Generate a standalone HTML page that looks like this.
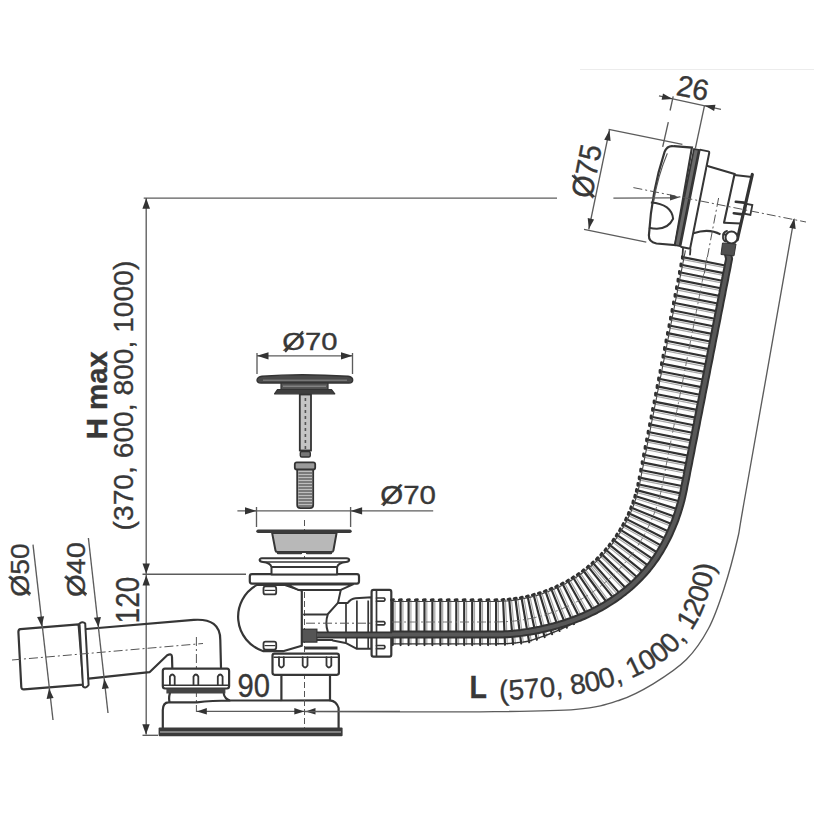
<!DOCTYPE html>
<html><head><meta charset="utf-8"><style>
html,body{margin:0;padding:0;background:#fff;}
svg{display:block;font-family:"Liberation Sans",sans-serif;}
</style></head><body>
<svg width="814" height="814" viewBox="0 0 814 814">
<rect width="814" height="814" fill="#fff"/>
<line x1="580.0" y1="69.5" x2="814.0" y2="69.5" stroke="#ececec" stroke-width="1" />
<line x1="143.7" y1="198.1" x2="557.0" y2="198.1" stroke="#5c5c5c" stroke-width="1.35" />
<line x1="146.2" y1="198.0" x2="146.2" y2="734.6" stroke="#5c5c5c" stroke-width="1.35" />
<polygon points="146.2,198.3 150.0,208.8 142.4,208.8" fill="#333"/>
<polygon points="146.2,573.7 142.5,563.4 149.9,563.4" fill="#333"/>
<polygon points="146.2,575.2 149.9,585.5 142.5,585.5" fill="#333"/>
<polygon points="146.0,734.4 142.3,724.2 149.7,724.2" fill="#333"/>
<line x1="142.5" y1="574.2" x2="246.0" y2="574.2" stroke="#5c5c5c" stroke-width="1.35" />
<line x1="142.5" y1="735.3" x2="158.0" y2="735.3" stroke="#5c5c5c" stroke-width="1.35" />
<text transform="translate(107.43,439.25) rotate(-90) scale(1.0074,1)" font-size="29.13" font-weight="bold" text-anchor="start" fill="#383838" stroke="#383838" stroke-width="0.35" >H max</text>
<text transform="translate(133.11,530.43) rotate(-90) scale(1.0267,1)" font-size="27.49" font-weight="normal" text-anchor="start" fill="#383838" stroke="#383838" stroke-width="0.35" >(370, 600, 800, 1000)</text>
<text transform="translate(138.70,623.41) rotate(-90) scale(0.8567,1)" font-size="32.66" font-weight="normal" text-anchor="start" fill="#383838" stroke="#383838" stroke-width="0.35" >120</text>
<text transform="translate(28.84,596.65) rotate(-90) scale(1.0932,1)" font-size="25.85" font-weight="normal" text-anchor="start" fill="#383838" stroke="#383838" stroke-width="0.35" >Ø50</text>
<line transform="translate(28.84,596.65) rotate(-90) scale(1.0932,1)" x1="2.59" y1="1.81" x2="18.10" y2="-20.16" stroke="#383838" stroke-width="1.60" stroke-linecap="butt"/>
<text transform="translate(84.84,597.08) rotate(-90) scale(1.1233,1)" font-size="25.85" font-weight="normal" text-anchor="start" fill="#383838" stroke="#383838" stroke-width="0.35" >Ø40</text>
<line transform="translate(84.84,597.08) rotate(-90) scale(1.1233,1)" x1="2.59" y1="1.81" x2="18.10" y2="-20.16" stroke="#383838" stroke-width="1.60" stroke-linecap="butt"/>
<path d="M20.5,629.1 L78.6,624.4 L83.5,684.6 L24,689.4 Q21.5,689.6 21.3,687 L18.4,632 Q18.3,629.3 20.5,629.1 Z" fill="#fff" stroke="#363636" stroke-width="2.2" stroke-linejoin="round" stroke-linecap="round" />
<path d="M79.5,623.5 Q83,621 85.2,623.5 L88.6,685 Q86,689 83,686.5 Z" fill="#fff" stroke="#363636" stroke-width="2.0" stroke-linejoin="round" stroke-linecap="round" />
<path d="M86.3,629 L193.7,619.9 Q220.3,618 220.3,640 L221,667.5" fill="none" stroke="#363636" stroke-width="2.2" stroke-linejoin="round" stroke-linecap="round" />
<path d="M88.5,678.6 L149.5,672.2 L167.2,655.3 Q172,653 172,657 L172.3,667.8" fill="none" stroke="#363636" stroke-width="2.2" stroke-linejoin="round" stroke-linecap="round" />
<line x1="12.0" y1="660.0" x2="203.0" y2="643.5" stroke="#555" stroke-width="1.0" stroke-dasharray="9 3 2 3"/>
<line x1="196.4" y1="637.0" x2="196.4" y2="712.0" stroke="#555" stroke-width="1.0" stroke-dasharray="9 3 2 3"/>
<line x1="33.0" y1="544.6" x2="53.0" y2="720.0" stroke="#5c5c5c" stroke-width="1.35" />
<polygon points="41.7,626.5 37.1,617.0 44.1,616.2" fill="#333"/>
<polygon points="49.0,688.6 53.6,698.1 46.6,698.9" fill="#333"/>
<line x1="88.4" y1="538.0" x2="108.0" y2="713.0" stroke="#5c5c5c" stroke-width="1.35" />
<polygon points="98.5,627.3 93.9,617.8 100.9,617.0" fill="#333"/>
<polygon points="104.3,678.8 108.9,688.3 101.9,689.1" fill="#333"/>
<path d="M165,668.6 L227,668.6 Q229.1,668.6 229.1,671 L229.1,686 Q229.1,688.5 227,688.5 L165,688.5 Q162.8,688.5 162.8,686 L162.8,671 Q162.8,668.6 165,668.6 Z" fill="#fff" stroke="#363636" stroke-width="2.2" stroke-linejoin="round" stroke-linecap="round" />
<path d="M169.9,685 L169.9,676.5 Q172.3,672.5 174.7,676.5 L174.7,685" fill="none" stroke="#363636" stroke-width="1.8" stroke-linejoin="round" stroke-linecap="round" />
<path d="M193.5,685 L193.5,676.5 Q195.9,672.5 198.3,676.5 L198.3,685" fill="none" stroke="#363636" stroke-width="1.8" stroke-linejoin="round" stroke-linecap="round" />
<path d="M217.8,685 L217.8,676.5 Q220.2,672.5 222.6,676.5 L222.6,685" fill="none" stroke="#363636" stroke-width="1.8" stroke-linejoin="round" stroke-linecap="round" />
<line x1="163.0" y1="685.2" x2="229.0" y2="685.2" stroke="#363636" stroke-width="1.6" />
<rect x="166.4" y="688.5" width="59" height="5" fill="#444"/>
<path d="M162.8,728 L162.8,710 Q163,702.3 168.5,702.3 L197,702.3 Q212,700.5 230,700.5 L280.5,700.5 M330,674.8 L330,700.3 Q336.5,701 338.6,708 L338.6,728 M169.8,693.6 Q168.6,697.5 169.5,702 M223.8,693.8 Q224.5,698.5 230,700.5" fill="none" stroke="#363636" stroke-width="2.2" stroke-linejoin="round" stroke-linecap="round" />
<path d="M281.4,675 L281.4,700.5 L330,700.3" fill="none" stroke="#363636" stroke-width="2.2" stroke-linejoin="round" stroke-linecap="round" />
<rect x="158.6" y="727.6" width="184" height="8.6" rx="1" fill="#3a3a3a"/>
<line x1="160.0" y1="732.0" x2="341.0" y2="732.0" stroke="#9a9a9a" stroke-width="1.3" />
<line x1="196.8" y1="711.4" x2="400.0" y2="711.4" stroke="#5c5c5c" stroke-width="1.35" />
<polygon points="196.8,711.4 206.8,708.1 206.8,714.6" fill="#333"/>
<polygon points="304.3,711.4 294.3,714.6 294.3,708.1" fill="#333"/>
<polygon points="305.5,711.4 315.5,708.1 315.5,714.6" fill="#333"/>
<line x1="304.5" y1="520.0" x2="304.5" y2="728.0" stroke="#555" stroke-width="1.0" stroke-dasharray="6 3"/>
<text transform="translate(237.51,696.59) rotate(0) scale(0.8969,1)" font-size="32.56" font-weight="normal" text-anchor="start" fill="#383838" stroke="#383838" stroke-width="0.35" >90</text>
<path d="M274.5,653.6 L337,653.6 Q338.9,653.6 338.9,655.8 L338.9,672.6 Q338.9,674.8 337,674.8 L274.5,674.8 Q272.5,674.8 272.5,672.6 L272.5,655.8 Q272.5,653.6 274.5,653.6 Z" fill="#fff" stroke="#363636" stroke-width="2.2" stroke-linejoin="round" stroke-linecap="round" />
<path d="M279.0,657.2 L279.0,665.5 Q281.4,669.5 283.8,665.5 L283.8,657.2" fill="none" stroke="#363636" stroke-width="1.8" stroke-linejoin="round" stroke-linecap="round" />
<path d="M302.7,657.2 L302.7,665.5 Q305.1,669.5 307.5,665.5 L307.5,657.2" fill="none" stroke="#363636" stroke-width="1.8" stroke-linejoin="round" stroke-linecap="round" />
<path d="M326.5,657.2 L326.5,665.5 Q328.9,669.5 331.3,665.5 L331.3,657.2" fill="none" stroke="#363636" stroke-width="1.8" stroke-linejoin="round" stroke-linecap="round" />
<line x1="273.5" y1="657.2" x2="338.0" y2="657.2" stroke="#363636" stroke-width="1.6" />
<path d="M257,584.9 A36.2,36.2 0 0 0 263.4,651.2 L283,651.2 L301.8,645.8 L301.8,590.8 L285,584.9 Z" fill="#fff" stroke="#363636" stroke-width="2.2" stroke-linejoin="round" stroke-linecap="round" />
<rect x="263.5" y="586.4" width="12.7" height="8" rx="2" fill="#fff" stroke="#363636" stroke-width="1.8"/>
<line x1="264.5" y1="590.4" x2="275.2" y2="590.4" stroke="#363636" stroke-width="1.2" />
<rect x="263.5" y="641.6" width="12.7" height="8" rx="2" fill="#fff" stroke="#363636" stroke-width="1.8"/>
<line x1="264.5" y1="645.6" x2="275.2" y2="645.6" stroke="#363636" stroke-width="1.2" />
<path d="M286.6,584.4 L353,584.4 L340.8,589.9 L298.3,589.9 Z" fill="#fff" stroke="#363636" stroke-width="2.0" stroke-linejoin="round" stroke-linecap="round" />
<path d="M340.8,589.9 L338,602.6" fill="none" stroke="#363636" stroke-width="2.0" stroke-linejoin="round" stroke-linecap="round" />
<path d="M304,614.4 L327.9,614.4 M304,640 L332.8,640" fill="none" stroke="#363636" stroke-width="2.0" stroke-linejoin="round" stroke-linecap="round" />
<path d="M337.7,603.1 L347.5,603.1 Q351,598.5 355.4,598.2 L371.6,597.2 L371.6,648.8 L356.9,648.8 L345.6,642.9 L332.8,640.5 M337.7,603.1 L327.9,614 Q324.8,623 327.9,632" fill="#fff" stroke="#363636" stroke-width="2.0" stroke-linejoin="round" stroke-linecap="round" />
<line x1="346.0" y1="603.5" x2="346.0" y2="642.5" stroke="#363636" stroke-width="1.7" />
<line x1="356.9" y1="600.5" x2="356.9" y2="648.0" stroke="#363636" stroke-width="1.7" />
<line x1="368.2" y1="600.5" x2="368.2" y2="648.0" stroke="#363636" stroke-width="1.7" />
<path d="M252,574.2 L357,574.2 Q359,574.2 359,576.5 L359,581.3 Q359,583.6 357,583.6 L252,583.6 Q249.8,583.6 249.8,581.3 L249.8,576.5 Q249.8,574.2 252,574.2 Z" fill="#fff" stroke="#363636" stroke-width="2.2" stroke-linejoin="round" stroke-linecap="round" />
<path d="M262,558.2 L346.5,558.2 Q349.5,558.5 349.2,560 Q348.8,561.8 346,562 Q338.3,562.8 337.1,567 L337.1,574.4 L271.5,574.4 L271.5,567 Q270.3,562.8 263,562 Q259.9,561.8 259.6,560 Q259.6,558.5 262,558.2 Z" fill="#fff" stroke="#363636" stroke-width="2.0" stroke-linejoin="round" stroke-linecap="round" />
<line x1="263.0" y1="562.0" x2="346.0" y2="562.0" stroke="#363636" stroke-width="1.3" />
<line x1="271.5" y1="567.0" x2="337.1" y2="567.0" stroke="#363636" stroke-width="2.0" />
<path d="M272.1,532.9 L336.6,532.9 L333.4,550.5 Q333,552 331,552 L277.5,552 Q275.8,552 275.5,550.5 Z" fill="#b8b8b8" stroke="#363636" stroke-width="2.0" stroke-linejoin="round" stroke-linecap="round" />
<path d="M278,553 L301,553 M307,553 L331,553" fill="none" stroke="#3a3a3a" stroke-width="2.4" stroke-linejoin="round" stroke-linecap="round" />
<path d="M258,531.2 L350,531.2" fill="none" stroke="#3a3a3a" stroke-width="3.4" stroke-linejoin="round" stroke-linecap="round" />
<rect x="302.2" y="629.2" width="14.7" height="12.9" fill="#555" stroke="#333" stroke-width="1.2"/>
<line x1="304.8" y1="648.1" x2="337.5" y2="648.1" stroke="#363636" stroke-width="3" />
<path d="M373.5,589.8 L389.5,589.8 Q391.3,589.8 391.3,592 L391.3,654.5 Q391.3,656.7 389.5,656.7 L373.5,656.7 Q371.6,656.7 371.6,654.5 L371.6,592 Q371.6,589.8 373.5,589.8 Z" fill="#fff" stroke="#363636" stroke-width="2.2" stroke-linejoin="round" stroke-linecap="round" />
<line x1="376.5" y1="590.0" x2="376.5" y2="656.5" stroke="#363636" stroke-width="1.7" />
<path d="M376.5,598.0 L384,598.0 Q386,599.6 384,601.2 L376.5,601.2" fill="none" stroke="#363636" stroke-width="1.7" stroke-linejoin="round" stroke-linecap="round" />
<path d="M376.5,621.6 L384,621.6 Q386,623.2 384,624.8 L376.5,624.8" fill="none" stroke="#363636" stroke-width="1.7" stroke-linejoin="round" stroke-linecap="round" />
<path d="M376.5,645.5 L384,645.5 Q386,647.1 384,648.7 L376.5,648.7" fill="none" stroke="#363636" stroke-width="1.7" stroke-linejoin="round" stroke-linecap="round" />
<line x1="257.0" y1="374.0" x2="257.0" y2="353.0" stroke="#5c5c5c" stroke-width="1.35" />
<line x1="352.5" y1="374.0" x2="352.5" y2="353.0" stroke="#5c5c5c" stroke-width="1.35" />
<line x1="257.0" y1="355.8" x2="352.5" y2="355.8" stroke="#5c5c5c" stroke-width="1.35" />
<polygon points="257.0,355.8 268.5,352.2 268.5,359.4" fill="#333"/>
<polygon points="352.5,355.8 341.0,359.4 341.0,352.2" fill="#333"/>
<text transform="translate(282.32,350.40) rotate(0) scale(1.1940,1)" font-size="24.51" font-weight="normal" text-anchor="start" fill="#383838" stroke="#383838" stroke-width="0.35" >Ø70</text>
<line transform="translate(282.32,350.40) rotate(0) scale(1.1940,1)" x1="2.45" y1="1.72" x2="17.16" y2="-19.12" stroke="#383838" stroke-width="1.52" stroke-linecap="butt"/>
<path d="M257,380 Q257.5,376.8 262,376.2 Q300,373.2 348,376.2 Q352.7,377 352.7,380 Q352.7,383 349,383 L261,383 Q257,383 257,380 Z" fill="#4a4a4a" stroke="#333" stroke-width="1.4" stroke-linejoin="round" stroke-linecap="round" />
<line x1="263.0" y1="380.2" x2="347.0" y2="380.2" stroke="#8a8a8a" stroke-width="1.0" />
<rect x="281" y="383" width="47" height="6.5" fill="#555" stroke="#333" stroke-width="1.2"/>
<line x1="283.0" y1="386.2" x2="326.0" y2="386.2" stroke="#999" stroke-width="1.0" />
<path d="M274.5,393.8 L277.5,389.5 L331.5,389.5 L334.8,393.8 Z" fill="#3e3e3e" stroke="#333" stroke-width="1.2" stroke-linejoin="round" stroke-linecap="round" />
<rect x="299.8" y="394.5" width="11.2" height="56" fill="#c4c4c4" stroke="#333" stroke-width="1.8"/>
<line x1="305.4" y1="398.0" x2="305.4" y2="449.0" stroke="#555" stroke-width="1.6" stroke-dasharray="3 3"/>
<rect x="300.3" y="451.5" width="10" height="5.5" rx="1.5" fill="#777" stroke="#333" stroke-width="1.4"/>
<path d="M297.2,469 L313.2,469 L313.2,505 Q313.2,508.2 310,508.2 L300.4,508.2 Q297.2,508.2 297.2,505 Z" fill="#bdbdbd" stroke="#333" stroke-width="1.8"/>
<rect x="294.8" y="462.3" width="20.4" height="7.2" rx="2" fill="#9a9a9a" stroke="#333" stroke-width="1.8"/>
<line x1="298.5" y1="473.0" x2="312.0" y2="473.0" stroke="#444" stroke-width="1.1" />
<line x1="298.5" y1="476.0" x2="312.0" y2="476.0" stroke="#444" stroke-width="1.1" />
<line x1="298.5" y1="479.0" x2="312.0" y2="479.0" stroke="#444" stroke-width="1.1" />
<line x1="298.5" y1="482.0" x2="312.0" y2="482.0" stroke="#444" stroke-width="1.1" />
<line x1="298.5" y1="485.0" x2="312.0" y2="485.0" stroke="#444" stroke-width="1.1" />
<line x1="298.5" y1="488.0" x2="312.0" y2="488.0" stroke="#444" stroke-width="1.1" />
<line x1="298.5" y1="491.0" x2="312.0" y2="491.0" stroke="#444" stroke-width="1.1" />
<line x1="298.5" y1="494.0" x2="312.0" y2="494.0" stroke="#444" stroke-width="1.1" />
<line x1="298.5" y1="497.0" x2="312.0" y2="497.0" stroke="#444" stroke-width="1.1" />
<line x1="298.5" y1="500.0" x2="312.0" y2="500.0" stroke="#444" stroke-width="1.1" />
<line x1="298.5" y1="503.0" x2="312.0" y2="503.0" stroke="#444" stroke-width="1.1" />
<line x1="298.5" y1="506.0" x2="312.0" y2="506.0" stroke="#444" stroke-width="1.1" />
<line x1="256.5" y1="507.0" x2="256.5" y2="527.0" stroke="#5c5c5c" stroke-width="1.35" />
<line x1="350.6" y1="507.0" x2="350.6" y2="527.0" stroke="#5c5c5c" stroke-width="1.35" />
<line x1="237.4" y1="510.9" x2="433.2" y2="510.9" stroke="#5c5c5c" stroke-width="1.35" />
<polygon points="256.5,510.9 245.0,514.5 245.0,507.3" fill="#333"/>
<polygon points="350.6,510.9 362.1,507.3 362.1,514.5" fill="#333"/>
<text transform="translate(380.27,504.08) rotate(0) scale(1.1754,1)" font-size="25.10" font-weight="normal" text-anchor="start" fill="#383838" stroke="#383838" stroke-width="0.35" >Ø70</text>
<line transform="translate(380.27,504.08) rotate(0) scale(1.1754,1)" x1="2.51" y1="1.76" x2="17.57" y2="-19.58" stroke="#383838" stroke-width="1.56" stroke-linecap="butt"/>
<path d="M395.0,600.0L395.0,645.1M402.9,600.0L402.9,645.1M410.9,600.0L410.9,645.1M418.9,600.0L418.9,645.1M426.8,600.0L426.8,645.1M434.8,600.0L434.8,645.1M442.7,600.0L442.7,645.1M450.7,600.0L450.7,645.1M458.6,600.0L458.6,645.1M466.6,600.0L466.6,645.1M474.5,600.0L474.5,645.1M482.5,600.0L482.5,645.1M490.4,600.0L490.4,645.1M498.4,600.0L498.4,645.1M505.4,599.6L507.3,644.7M511.5,599.1L515.4,644.1M517.7,598.2L523.4,643.2M523.8,597.2L531.4,641.8M529.8,595.8L539.2,639.2M535.8,594.2L546.8,636.5M541.7,592.4L554.3,633.5M547.6,590.3L561.7,630.3M553.3,588.0L568.9,626.8M558.9,585.4L576.0,623.2M564.4,582.6L582.9,619.2M569.8,579.6L589.6,615.0M575.1,576.3L596.1,610.6M580.2,572.8L602.7,606.2M585.1,569.1L609.5,602.1M589.9,565.3L616.1,597.7M591.1,564.2L619.1,596.1M595.6,560.1L625.4,591.2M600.0,555.7L631.5,586.0M604.2,551.2L637.3,580.5M608.2,546.6L642.9,574.7M612.0,541.7L648.2,568.5M615.6,536.7L653.1,562.1M619.0,531.6L657.6,555.5M622.1,526.3L661.8,548.6M625.0,520.9L665.7,541.5M627.7,515.4L669.3,534.3M630.2,509.8L672.6,526.9M632.4,504.0L675.5,519.4M634.3,498.2L678.2,511.8M636.1,492.4L680.5,504.0M637.5,486.4L682.4,496.2M638.9,479.9L684.0,488.8M640.3,472.3L685.5,481.2M641.8,464.7L687.0,473.5M643.3,457.1L688.5,465.9M644.8,449.5L690.0,458.3M646.3,441.9L691.5,450.7M647.8,434.3L692.9,443.1M649.3,426.7L694.4,435.5M650.8,419.1L695.9,427.9M652.3,411.5L697.4,420.3M653.8,403.8L698.9,412.7M655.3,396.2L700.4,405.1M656.8,388.6L701.9,397.5M658.3,381.0L703.4,389.9M659.7,373.4L704.9,382.3M661.2,365.8L706.4,374.7M662.7,358.2L707.9,367.1M664.2,350.6L709.4,359.5M665.7,343.0L710.9,351.9M667.2,335.4L712.3,344.3M668.7,327.8L713.8,336.7M670.2,320.2L715.3,329.1M671.7,312.6L716.8,321.4M673.2,305.0L718.3,313.8M674.7,297.4L719.8,306.2M676.2,289.8L721.3,298.6M677.6,282.2L722.8,291.0M679.1,274.6L724.3,283.4M680.6,267.0L725.8,275.8M682.1,259.4L727.3,268.2" stroke="#a8a8a8" stroke-width="1.2" fill="none"/>
<path d="M392.7,600.0L392.7,645.1M400.6,600.0L400.6,645.1M408.6,600.0L408.6,645.1M416.6,600.0L416.6,645.1M424.5,600.0L424.5,645.1M432.4,600.0L432.4,645.1M440.4,600.0L440.4,645.1M448.4,600.0L448.4,645.1M456.3,600.0L456.3,645.1M464.2,600.0L464.2,645.1M472.2,600.0L472.2,645.1M480.2,600.0L480.2,645.1M488.1,600.0L488.1,645.1M496.1,600.0L496.1,645.1M503.1,599.7L505.0,644.8M509.2,599.2L513.1,644.3M515.4,598.5L521.2,643.4M521.5,597.5L529.2,642.2M527.6,596.3L536.9,639.7M533.6,594.8L544.6,637.1M539.5,593.1L552.1,634.2M545.4,591.1L559.5,631.0M551.2,588.8L566.8,627.7M556.8,586.4L573.9,624.1M562.4,583.6L580.8,620.3M567.8,580.7L587.6,616.2M573.1,577.5L594.2,611.8M578.3,574.1L600.8,607.5M583.3,570.5L607.6,603.5M588.1,566.7L614.3,599.2M592.8,562.7L620.8,594.6M597.3,558.5L627.1,589.6M601.6,554.1L633.1,584.3M605.7,549.5L638.9,578.7M609.7,544.8L644.4,572.9M613.4,539.9L649.5,566.7M616.9,534.8L654.4,560.2M620.2,529.6L658.9,553.5M623.2,524.3L663.0,546.6M626.1,518.9L666.8,539.5M628.7,513.3L670.2,532.2M631.0,507.6L673.4,524.8M633.2,501.9L676.3,517.2M635.0,496.0L678.8,509.6M636.6,490.1L681.1,501.8M638.0,484.2L682.9,493.9M639.3,477.6L684.4,486.5M640.8,470.0L685.9,478.9M642.3,462.4L687.4,471.3M643.8,454.8L688.9,463.7M645.3,447.2L690.4,456.1M646.8,439.6L691.9,448.5M648.3,432.0L693.4,440.9M649.7,424.4L694.9,433.3M651.2,416.8L696.4,425.7M652.7,409.2L697.9,418.1M654.2,401.6L699.4,410.4M655.7,394.0L700.9,402.8M657.2,386.4L702.3,395.2M658.7,378.8L703.8,387.6M660.2,371.2L705.3,380.0M661.7,363.6L706.8,372.4M663.2,356.0L708.3,364.8M664.7,348.4L709.8,357.2M666.2,340.8L711.3,349.6M667.6,333.1L712.8,342.0M669.1,325.5L714.3,334.4M670.6,317.9L715.8,326.8M672.1,310.3L717.3,319.2M673.6,302.7L718.8,311.6M675.1,295.1L720.2,304.0M676.6,287.5L721.7,296.4M678.1,279.9L723.2,288.8M679.6,272.3L724.7,281.2M681.1,264.7L726.2,273.6M682.6,257.1L727.7,266.0" stroke="#303030" stroke-width="2.15" stroke-linecap="round" fill="none"/>
<path d="M391.5,600.0L393.5,599.7M399.4,600.0L401.4,599.7M407.4,600.0L409.4,599.7M415.4,600.0L417.4,599.7M423.3,600.0L425.3,599.7M431.2,600.0L433.2,599.7M439.2,600.0L441.2,599.7M447.2,600.0L449.2,599.7M455.1,600.0L457.1,599.7M463.1,600.0L465.1,599.7M471.0,600.0L473.0,599.7M479.0,600.0L481.0,599.7M486.9,600.0L488.9,599.7M494.9,600.0L496.9,599.7M501.9,599.8L503.8,599.4M508.0,599.3L510.0,598.9M514.2,598.7L516.2,598.1M520.3,597.8L522.3,597.1M526.4,596.6L528.3,595.9M532.4,595.1L534.3,594.3M538.4,593.4L540.2,592.6M544.3,591.5L546.1,590.5M550.1,589.3L551.8,588.3M555.7,586.9L557.4,585.8M561.3,584.2L563.0,583.0M566.8,581.3L568.4,580.0M572.1,578.1L573.6,576.8M577.3,574.8L578.8,573.4M582.3,571.2L583.7,569.8M587.2,567.5L588.5,566.0M591.9,563.5L593.2,561.9M596.4,559.3L597.7,557.7M600.8,554.9L601.9,553.3M604.9,550.4L606.0,548.7M608.9,545.7L609.9,544.0M612.7,540.8L613.6,539.1M616.2,535.8L617.1,534.0M619.5,530.7L620.3,528.8M622.6,525.4L623.4,523.5M625.5,519.9L626.2,518.0M628.2,514.4L628.7,512.4M630.6,508.7L631.1,506.8M632.8,503.0L633.1,501.0M634.7,497.2L635.0,495.2M636.3,491.3L636.6,489.3M637.8,485.3L637.9,483.3M639.1,478.8L639.2,476.8M640.6,471.2L640.7,469.2M642.1,463.6L642.1,461.6M643.5,456.0L643.6,454.0M645.0,448.4L645.1,446.4M646.5,440.8L646.6,438.8M648.0,433.2L648.1,431.2M649.5,425.6L649.6,423.6M651.0,418.0L651.1,416.0M652.5,410.4L652.6,408.4M654.0,402.8L654.1,400.8M655.5,395.2L655.6,393.1M657.0,387.6L657.1,385.5M658.5,380.0L658.6,377.9M660.0,372.4L660.0,370.3M661.4,364.7L661.5,362.7M662.9,357.1L663.0,355.1M664.4,349.5L664.5,347.5M665.9,341.9L666.0,339.9M667.4,334.3L667.5,332.3M668.9,326.7L669.0,324.7M670.4,319.1L670.5,317.1M671.9,311.5L672.0,309.5M673.4,303.9L673.5,301.9M674.9,296.3L675.0,294.3M676.4,288.7L676.5,286.7M677.9,281.1L678.0,279.1M679.4,273.5L679.4,271.5M680.8,265.9L680.9,263.9M682.3,258.3L682.4,256.3" stroke="#303030" stroke-width="2.8" stroke-linecap="round" fill="none"/>
<polyline points="392.0,601.5 394.5,601.5 397.0,601.5 399.5,601.5 402.0,601.5 404.5,601.5 407.0,601.5 409.5,601.5 412.0,601.5 414.5,601.5 417.0,601.5 419.5,601.5 422.0,601.5 424.5,601.5 427.0,601.5 429.5,601.5 432.0,601.5 434.5,601.5 437.0,601.5 439.5,601.5 442.0,601.5 444.5,601.5 447.0,601.5 449.5,601.5 452.0,601.5 454.5,601.5 457.0,601.5 459.5,601.5 462.0,601.5 464.5,601.5 467.0,601.5 469.5,601.5 472.0,601.5 474.5,601.5 477.0,601.5 479.5,601.5 482.0,601.5 484.5,601.5 487.0,601.5 489.5,601.5 492.0,601.5 494.5,601.5 497.0,601.4 499.2,601.4 501.4,601.3 503.6,601.2 505.7,601.0 507.9,600.9 510.1,600.7 512.3,600.4 514.5,600.2 516.7,599.9 518.8,599.5 521.0,599.2 523.1,598.8 525.3,598.3 527.4,597.9 529.6,597.4 531.7,596.9 533.8,596.3 535.9,595.7 538.0,595.1 540.1,594.5 542.2,593.8 544.3,593.1 546.3,592.3 548.4,591.6 550.4,590.8 552.4,589.9 554.4,589.1 556.4,588.2 558.4,587.3 560.4,586.3 562.4,585.3 564.3,584.3 566.2,583.3 568.1,582.2 570.0,581.1 571.9,580.0 573.8,578.9 575.6,577.7 577.4,576.5 579.2,575.3 581.0,574.0 582.8,572.7 584.5,571.4 586.3,570.1 588.0,568.7 589.7,567.4 591.3,566.0 593.0,564.5 594.6,563.1 596.2,561.6 597.8,560.1 599.3,558.6 600.9,557.0 602.4,555.5 603.9,553.9 605.3,552.2 606.8,550.6 608.2,549.0 609.6,547.3 610.9,545.6 612.3,543.9 613.6,542.1 614.9,540.4 616.1,538.6 617.4,536.8 618.6,535.0 619.7,533.2 620.9,531.3 622.0,529.5 623.1,527.6 624.2,525.7 625.2,523.8 626.2,521.9 627.2,519.9 628.2,518.0 629.1,516.0 630.0,514.0 630.9,512.0 631.7,510.0 632.5,508.0 633.3,506.0 634.0,504.0 634.7,501.9 635.4,499.8 636.1,497.8 636.7,495.7 637.3,493.6 637.8,491.5 638.4,489.4 638.9,487.3 639.3,485.2 639.8,483.1 640.2,480.9 640.7,478.4 641.2,475.9 641.6,473.5 642.1,471.0 642.6,468.6 643.1,466.1 643.6,463.7 644.0,461.2 644.5,458.8 645.0,456.3 645.5,453.9 646.0,451.4 646.5,449.0 646.9,446.5 647.4,444.1 647.9,441.6 648.4,439.2 648.9,436.7 649.3,434.2 649.8,431.8 650.3,429.3 650.8,426.9 651.3,424.4 651.7,422.0 652.2,419.5 652.7,417.1 653.2,414.6 653.7,412.2 654.2,409.7 654.6,407.3 655.1,404.8 655.6,402.4 656.1,399.9 656.6,397.4 657.0,395.0 657.5,392.5 658.0,390.1 658.5,387.6 659.0,385.2 659.4,382.7 659.9,380.3 660.4,377.8 660.9,375.4 661.4,372.9 661.9,370.5 662.3,368.0 662.8,365.6 663.3,363.1 663.8,360.6 664.3,358.2 664.7,355.7 665.2,353.3 665.7,350.8 666.2,348.4 666.7,345.9 667.1,343.5 667.6,341.0 668.1,338.6 668.6,336.1 669.1,333.7 669.6,331.2 670.0,328.8 670.5,326.3 671.0,323.8 671.5,321.4 672.0,318.9 672.4,316.5 672.9,314.0 673.4,311.6 673.9,309.1 674.4,306.7 674.9,304.2 675.3,301.8 675.8,299.3 676.3,296.9 676.8,294.4 677.3,292.0 677.7,289.5 678.2,287.1 678.7,284.6 679.2,282.1 679.7,279.7 680.1,277.2 680.6,274.8 681.1,272.3 681.6,269.9 682.1,267.4 682.6,265.0 683.0,262.5 683.5,260.1 684.0,257.6 684.5,255.2 685.0,252.7 685.4,250.3" stroke="#444" stroke-width="1.1" fill="none"/>
<polyline points="392.0,643.9 394.5,643.9 397.0,643.9 399.5,643.9 402.0,643.9 404.5,643.9 407.0,643.9 409.5,643.9 412.0,643.9 414.5,643.9 417.0,643.9 419.5,643.9 422.0,643.9 424.5,643.9 427.0,643.9 429.5,643.9 432.0,643.9 434.5,643.9 437.0,643.9 439.5,643.9 442.0,643.9 444.5,643.9 447.0,643.9 449.5,643.9 452.0,643.9 454.5,643.9 457.0,643.9 459.5,643.9 462.0,643.9 464.5,643.9 467.0,643.9 469.5,643.9 472.0,643.9 474.5,643.9 477.0,643.9 479.5,643.9 482.0,643.9 484.5,643.9 487.0,643.9 489.5,643.9 492.0,643.9 494.5,643.9 497.0,643.8 499.9,643.8 502.7,643.7 505.5,643.6 508.3,643.5 511.1,643.3 514.0,643.0 516.8,642.8 519.6,642.4 522.4,642.1 525.2,641.7 528.0,641.3 530.7,640.5 533.4,639.6 536.1,638.7 538.8,637.8 541.4,636.9 544.1,636.0 546.7,635.0 549.3,634.0 551.9,632.9 554.5,631.9 557.1,630.8 559.6,629.7 562.2,628.5 564.7,627.4 567.2,626.2 569.7,624.9 572.1,623.7 574.6,622.4 577.0,621.0 579.4,619.7 581.8,618.3 584.2,616.9" stroke="#333" stroke-width="1.4" fill="none"/>
<polyline points="392.0,622.0 394.5,622.0 397.0,622.0 399.5,622.0 402.0,622.0 404.5,622.0 407.0,622.0 409.5,622.0 412.0,622.0 414.5,622.0 417.0,622.0 419.5,622.0 422.0,622.0 424.5,622.0 427.0,622.0 429.5,622.0 432.0,622.0 434.5,622.0 437.0,622.0 439.5,622.0 442.0,622.0 444.5,622.0 447.0,622.0 449.5,622.0 452.0,622.0 454.5,622.0 457.0,622.0 459.5,622.0 462.0,622.0 464.5,622.0 467.0,622.0 469.5,622.0 472.0,622.0 474.5,622.0 477.0,622.0 479.5,622.0 482.0,622.0 484.5,622.0 487.0,622.0 489.5,622.0 492.0,622.0 494.5,622.0 497.0,621.9 499.5,621.9 502.0,621.8 504.5,621.7 507.0,621.6 509.5,621.4 512.0,621.2 514.5,621.0 517.0,620.7 519.4,620.4 521.9,620.0 524.4,619.6 526.8,619.2 529.3,618.7 531.7,618.2 534.2,617.7 536.6,617.1 539.0,616.5 541.5,615.9 543.9,615.2 546.3,614.5 548.6,613.7 551.0,612.9 553.4,612.1 555.7,611.3 558.1,610.4 560.4,609.4 562.7,608.5 565.0,607.5 567.3,606.5 569.5,605.4 571.8,604.3 574.0,603.2 576.2,602.0 578.4,600.8 580.6,599.6 582.8,598.3 584.9,597.0 587.0,595.7 589.1,594.4 591.2,593.0 593.3,591.6 595.3,590.1 597.3,588.6 599.3,587.1 601.3,585.6 603.2,584.0 605.2,582.4 607.1,580.8 608.9,579.2 610.8,577.5 612.6,575.8 614.4,574.1 616.2,572.3 618.0,570.5 619.7,568.7 621.4,566.9 623.0,565.0 624.7,563.1 626.3,561.2 627.9,559.3 629.4,557.3 631.0,555.3 632.5,553.3 633.9,551.3 635.4,549.3 636.8,547.2 638.2,545.1 639.5,543.0 640.8,540.9 642.1,538.7 643.3,536.6 644.6,534.4 645.7,532.2 646.9,530.0 648.0,527.7 649.1,525.5 650.2,523.2 651.2,520.9 652.2,518.6 653.1,516.3 654.0,514.0 654.9,511.7 655.8,509.3 656.6,506.9 657.3,504.6 658.1,502.2 658.8,499.8 659.5,497.4 660.1,494.9 660.7,492.5 661.3,490.1 661.8,487.6 662.3,485.2 662.8,482.7 663.2,480.3 663.7,477.8 664.2,475.4 664.7,472.9 665.2,470.5 665.6,468.0 666.1,465.6 666.6,463.1 667.1,460.7 667.6,458.2 668.1,455.7 668.5,453.3 669.0,450.8 669.5,448.4 670.0,445.9 670.5,443.5 670.9,441.0 671.4,438.6 671.9,436.1 672.4,433.7 672.9,431.2 673.3,428.8 673.8,426.3 674.3,423.9 674.8,421.4 675.3,419.0 675.8,416.5 676.2,414.0 676.7,411.6 677.2,409.1 677.7,406.7 678.2,404.2 678.6,401.8 679.1,399.3 679.6,396.9 680.1,394.4 680.6,392.0 681.0,389.5 681.5,387.1 682.0,384.6 682.5,382.2 683.0,379.7 683.5,377.2 683.9,374.8 684.4,372.3 684.9,369.9 685.4,367.4 685.9,365.0 686.3,362.5 686.8,360.1 687.3,357.6 687.8,355.2 688.3,352.7 688.7,350.3 689.2,347.8 689.7,345.4 690.2,342.9 690.7,340.4 691.2,338.0 691.6,335.5 692.1,333.1 692.6,330.6 693.1,328.2 693.6,325.7 694.0,323.3 694.5,320.8 695.0,318.4 695.5,315.9 696.0,313.5 696.4,311.0 696.9,308.6 697.4,306.1 697.9,303.6 698.4,301.2 698.9,298.7 699.3,296.3 699.8,293.8 700.3,291.4 700.8,288.9 701.3,286.5 701.7,284.0 702.2,281.6 702.7,279.1 703.2,276.7 703.7,274.2 704.1,271.8 704.6,269.3 705.1,266.9 705.6,264.4 706.1,261.9 706.6,259.5 707.0,257.0 707.5,254.6" stroke="#666" stroke-width="0.9" fill="none" stroke-dasharray="9 3 2 3"/>
<polyline points="392.0,634.6 394.5,634.6 397.0,634.6 399.5,634.6 402.0,634.6 404.5,634.6 407.0,634.6 409.5,634.6 412.0,634.6 414.5,634.6 417.0,634.6 419.5,634.6 422.0,634.6 424.5,634.6 427.0,634.6 429.5,634.6 432.0,634.6 434.5,634.6 437.0,634.6 439.5,634.6 442.0,634.6 444.5,634.6 447.0,634.6 449.5,634.6 452.0,634.6 454.5,634.6 457.0,634.6 459.5,634.6 462.0,634.6 464.5,634.6 467.0,634.6 469.5,634.6 472.0,634.6 474.5,634.6 477.0,634.6 479.5,634.6 482.0,634.6 484.5,634.6 487.0,634.6 489.5,634.6 492.0,634.6 494.5,634.6 497.0,634.5 499.7,634.5 502.4,634.4 505.1,634.3 507.8,634.2 510.4,634.0 513.1,633.8 515.8,633.5 518.5,633.2 521.1,632.9 523.8,632.5 526.4,632.1 529.1,631.7 531.7,631.2 534.4,630.7 537.0,630.2 539.7,629.7 542.3,629.1 544.9,628.5 547.6,627.9 550.2,627.3 552.8,626.6 555.4,625.9 558.0,625.2 560.6,624.4 563.2,623.6 565.8,622.8 568.4,621.9 571.0,621.0 573.5,620.1 576.1,619.1 578.6,618.1 581.2,617.0 583.7,616.0 586.2,614.9 588.7,613.7 591.2,612.5 593.7,611.3 596.1,610.1 598.5,608.8 601.0,607.4 603.4,606.1 605.8,604.6 608.1,603.2 610.5,601.7 612.8,600.2 615.1,598.6 617.4,597.0 619.7,595.4 621.9,593.7 624.1,592.0 626.3,590.2 628.4,588.4 630.6,586.6 632.7,584.7 634.7,582.8 636.7,580.9 638.7,578.9 640.7,576.9 642.6,574.8 644.5,572.7 646.4,570.6 648.2,568.4 649.9,566.2 651.7,564.0 653.3,561.7 655.0,559.4 656.6,557.1 658.1,554.7 659.6,552.3 661.1,549.9 662.5,547.4 663.9,545.0 665.2,542.5 666.5,540.0 667.8,537.4 669.0,534.9 670.2,532.3 671.3,529.7 672.4,527.1 673.5,524.5 674.6,521.9 675.6,519.3 676.5,516.6 677.4,513.9 678.3,511.2 679.1,508.5 679.9,505.8 680.7,503.1 681.4,500.4 682.1,497.6 682.7,494.9 683.3,492.1 683.9,489.4 684.3,487.0 684.8,484.5 685.3,482.1 685.8,479.6 686.3,477.2 686.8,474.7 687.2,472.3 687.7,469.8 688.2,467.3 688.7,464.9 689.2,462.4 689.6,460.0 690.1,457.5 690.6,455.1 691.1,452.6 691.6,450.2 692.0,447.7 692.5,445.3 693.0,442.8 693.5,440.4 694.0,437.9 694.5,435.5 694.9,433.0 695.4,430.5 695.9,428.1 696.4,425.6 696.9,423.2 697.3,420.7 697.8,418.3 698.3,415.8 698.8,413.4 699.3,410.9 699.7,408.5 700.2,406.0 700.7,403.6 701.2,401.1 701.7,398.7 702.2,396.2 702.6,393.7 703.1,391.3 703.6,388.8 704.1,386.4 704.6,383.9 705.0,381.5 705.5,379.0 706.0,376.6 706.5,374.1 707.0,371.7 707.4,369.2 707.9,366.8 708.4,364.3 708.9,361.9 709.4,359.4 709.9,356.9 710.3,354.5 710.8,352.0 711.3,349.6 711.8,347.1 712.3,344.7 712.7,342.2 713.2,339.8 713.7,337.3 714.2,334.9 714.7,332.4 715.1,330.0 715.6,327.5 716.1,325.1 716.6,322.6 717.1,320.2 717.6,317.7 718.0,315.2 718.5,312.8 719.0,310.3 719.5,307.9 720.0,305.4 720.4,303.0 720.9,300.5 721.4,298.1 721.9,295.6 722.4,293.2 722.8,290.7 723.3,288.3 723.8,285.8 724.3,283.4 724.8,280.9 725.3,278.4 725.7,276.0 726.2,273.5 726.7,271.1 727.2,268.6 727.7,266.2 728.1,263.7 728.6,261.3 729.1,258.8 727,250" stroke="#333" stroke-width="8" fill="none" stroke-linejoin="round"/>
<polyline points="392.0,634.6 394.5,634.6 397.0,634.6 399.5,634.6 402.0,634.6 404.5,634.6 407.0,634.6 409.5,634.6 412.0,634.6 414.5,634.6 417.0,634.6 419.5,634.6 422.0,634.6 424.5,634.6 427.0,634.6 429.5,634.6 432.0,634.6 434.5,634.6 437.0,634.6 439.5,634.6 442.0,634.6 444.5,634.6 447.0,634.6 449.5,634.6 452.0,634.6 454.5,634.6 457.0,634.6 459.5,634.6 462.0,634.6 464.5,634.6 467.0,634.6 469.5,634.6 472.0,634.6 474.5,634.6 477.0,634.6 479.5,634.6 482.0,634.6 484.5,634.6 487.0,634.6 489.5,634.6 492.0,634.6 494.5,634.6 497.0,634.5 499.7,634.5 502.4,634.4 505.1,634.3 507.8,634.2 510.4,634.0 513.1,633.8 515.8,633.5 518.5,633.2 521.1,632.9 523.8,632.5 526.4,632.1 529.1,631.7 531.7,631.2 534.4,630.7 537.0,630.2 539.7,629.7 542.3,629.1 544.9,628.5 547.6,627.9 550.2,627.3 552.8,626.6 555.4,625.9 558.0,625.2 560.6,624.4 563.2,623.6 565.8,622.8 568.4,621.9 571.0,621.0 573.5,620.1 576.1,619.1 578.6,618.1 581.2,617.0 583.7,616.0 586.2,614.9 588.7,613.7 591.2,612.5 593.7,611.3 596.1,610.1 598.5,608.8 601.0,607.4 603.4,606.1 605.8,604.6 608.1,603.2 610.5,601.7 612.8,600.2 615.1,598.6 617.4,597.0 619.7,595.4 621.9,593.7 624.1,592.0 626.3,590.2 628.4,588.4 630.6,586.6 632.7,584.7 634.7,582.8 636.7,580.9 638.7,578.9 640.7,576.9 642.6,574.8 644.5,572.7 646.4,570.6 648.2,568.4 649.9,566.2 651.7,564.0 653.3,561.7 655.0,559.4 656.6,557.1 658.1,554.7 659.6,552.3 661.1,549.9 662.5,547.4 663.9,545.0 665.2,542.5 666.5,540.0 667.8,537.4 669.0,534.9 670.2,532.3 671.3,529.7 672.4,527.1 673.5,524.5 674.6,521.9 675.6,519.3 676.5,516.6 677.4,513.9 678.3,511.2 679.1,508.5 679.9,505.8 680.7,503.1 681.4,500.4 682.1,497.6 682.7,494.9 683.3,492.1 683.9,489.4 684.3,487.0 684.8,484.5 685.3,482.1 685.8,479.6 686.3,477.2 686.8,474.7 687.2,472.3 687.7,469.8 688.2,467.3 688.7,464.9 689.2,462.4 689.6,460.0 690.1,457.5 690.6,455.1 691.1,452.6 691.6,450.2 692.0,447.7 692.5,445.3 693.0,442.8 693.5,440.4 694.0,437.9 694.5,435.5 694.9,433.0 695.4,430.5 695.9,428.1 696.4,425.6 696.9,423.2 697.3,420.7 697.8,418.3 698.3,415.8 698.8,413.4 699.3,410.9 699.7,408.5 700.2,406.0 700.7,403.6 701.2,401.1 701.7,398.7 702.2,396.2 702.6,393.7 703.1,391.3 703.6,388.8 704.1,386.4 704.6,383.9 705.0,381.5 705.5,379.0 706.0,376.6 706.5,374.1 707.0,371.7 707.4,369.2 707.9,366.8 708.4,364.3 708.9,361.9 709.4,359.4 709.9,356.9 710.3,354.5 710.8,352.0 711.3,349.6 711.8,347.1 712.3,344.7 712.7,342.2 713.2,339.8 713.7,337.3 714.2,334.9 714.7,332.4 715.1,330.0 715.6,327.5 716.1,325.1 716.6,322.6 717.1,320.2 717.6,317.7 718.0,315.2 718.5,312.8 719.0,310.3 719.5,307.9 720.0,305.4 720.4,303.0 720.9,300.5 721.4,298.1 721.9,295.6 722.4,293.2 722.8,290.7 723.3,288.3 723.8,285.8 724.3,283.4 724.8,280.9 725.3,278.4 725.7,276.0 726.2,273.5 726.7,271.1 727.2,268.6 727.7,266.2 728.1,263.7 728.6,261.3 729.1,258.8 727,250" stroke="#585858" stroke-width="4" fill="none" stroke-linejoin="round"/>
<line x1="316.9" y1="635.0" x2="392.0" y2="635.0" stroke="#333" stroke-width="7" />
<line x1="316.9" y1="635.0" x2="392.0" y2="635.0" stroke="#585858" stroke-width="3.5" />
<line x1="306.0" y1="623.2" x2="372.0" y2="623.2" stroke="#555" stroke-width="1.0" stroke-dasharray="9 3 2 3"/>
<g transform="translate(684.0,197.5) rotate(11.3)"><path d="M-20,-48.3 L-2,-50.5 L0.5,48.5 L-18,50.5 Q-26,50.5 -27,44 Q-33,0 -28,-41 Q-26.5,-48.3 -20,-48.3 Z" fill="#fff" stroke="#363636" stroke-width="2.2"/><path d="M-25,-40 Q-30,-15 -29,10" fill="none" stroke="#555" stroke-width="1.2"/><path d="M-31.5,11.5 Q-11,9 -6.5,23 Q-10,37 -28.5,36.5" fill="none" stroke="#363636" stroke-width="2"/><rect x="0.3" y="-49.5" width="4.8" height="98" fill="#6a6a6a" stroke="#333" stroke-width="1.6"/><rect x="6" y="-50" width="10" height="99" rx="1.2" fill="#fff" stroke="#363636" stroke-width="2"/><path d="M16,-35.5 L45,-33 L44.2,17 M43,29 Q30,25 16.3,33.3" fill="#fff" stroke="#363636" stroke-width="2.1"/><path d="M45,-32 L62.5,-33.5 M45,28 L61,30" fill="none" stroke="#363636" stroke-width="2"/><path d="M62.5,-36 L60.5,31" fill="none" stroke="#333" stroke-width="3.2" stroke-linecap="round"/><rect x="62.5" y="-6" width="6" height="10" fill="#fff" stroke="#363636" stroke-width="1.8"/></g>
<path d="M735.8,201.8 L744,202.6 M733.8,213.2 L742.8,214.4" fill="none" stroke="#333" stroke-width="2.6" stroke-linejoin="round" stroke-linecap="round" />
<path d="M724,222.7 L740.5,223.4" fill="none" stroke="#363636" stroke-width="2.0" stroke-linejoin="round" stroke-linecap="round" />
<path d="M727,231 Q722.5,232 723,238 Q723.5,241 726,241.5" fill="none" stroke="#363636" stroke-width="1.8" stroke-linejoin="round" stroke-linecap="round" />
<circle cx="731.5" cy="237.5" r="6" fill="#fff" stroke="#363636" stroke-width="2"/>
<path d="M722.5,243 L736,244 L734,255.8 L721,254.5 Z" fill="#505050" stroke="#333" stroke-width="1"/>
<path d="M682.6,254.6 L683,248.5 M690.5,249 L690,254.6" fill="none" stroke="#363636" stroke-width="1.8" stroke-linejoin="round" stroke-linecap="round" />
<line x1="633.4" y1="187.6" x2="806.0" y2="222.0" stroke="#555" stroke-width="1.0" stroke-dasharray="9 3 2 3"/>
<line x1="718.6" y1="198.0" x2="704.0" y2="275.0" stroke="#555" stroke-width="1.0" stroke-dasharray="9 3 2 3"/>
<line x1="613.4" y1="198.1" x2="670.0" y2="197.9" stroke="#5c5c5c" stroke-width="1.35" />
<polygon points="680.0,197.3 670.0,200.4 670.0,194.4" fill="#444"/>
<line x1="608.7" y1="129.3" x2="682.4" y2="144.3" stroke="#5c5c5c" stroke-width="1.35" />
<line x1="584.0" y1="229.4" x2="646.3" y2="242.2" stroke="#5c5c5c" stroke-width="1.35" />
<line x1="609.5" y1="129.6" x2="588.8" y2="229.4" stroke="#5c5c5c" stroke-width="1.35" />
<polygon points="609.5,130.2 610.6,141.1 604.2,139.8" fill="#333"/>
<polygon points="588.8,229.0 587.7,218.1 594.1,219.4" fill="#333"/>
<text transform="translate(591.81,199.23) rotate(-79) scale(0.9228,1)" font-size="30.56" font-weight="normal" text-anchor="start" fill="#383838" stroke="#383838" stroke-width="0.35" >Ø75</text>
<line transform="translate(591.81,199.23) rotate(-79) scale(0.9228,1)" x1="3.06" y1="2.14" x2="21.39" y2="-23.84" stroke="#383838" stroke-width="1.89" stroke-linecap="butt"/>
<line x1="659.0" y1="95.8" x2="721.0" y2="109.3" stroke="#5c5c5c" stroke-width="1.35" />
<polygon points="672.6,98.9 661.6,99.8 663.0,93.5" fill="#333"/>
<polygon points="704.5,105.6 715.5,104.7 714.1,111.0" fill="#333"/>
<line x1="673.2" y1="96.4" x2="670.1" y2="110.5" stroke="#5c5c5c" stroke-width="1.35" />
<line x1="668.3" y1="122.2" x2="662.7" y2="146.8" stroke="#5c5c5c" stroke-width="1.35" />
<line x1="704.5" y1="105.6" x2="695.3" y2="148.6" stroke="#5c5c5c" stroke-width="1.35" />
<text transform="translate(675.14,94.83) rotate(11.5) scale(0.9778,1)" font-size="29.38" font-weight="normal" text-anchor="start" fill="#383838" stroke="#383838" stroke-width="0.35" >26</text>
<path d="M305.0,711.6 C334.2,711.6 434.8,712.2 480.0,711.8 C525.2,711.4 552.7,711.4 576.0,709.4 C599.3,707.4 607.1,704.3 620.0,700.0 C632.9,695.7 642.1,690.5 653.2,683.8 C664.3,677.0 677.2,668.7 686.4,659.5 C695.6,650.3 702.2,640.3 708.5,628.5 C714.8,616.7 719.2,603.5 724.0,588.7 C728.8,574.0 733.7,555.8 737.3,540.0 C740.9,524.2 736.0,547.5 745.5,494.0 C755.0,440.5 785.9,264.8 794.0,219.0" fill="none" stroke="#5c5c5c" stroke-width="1.35"/>
<polygon points="794.3,218.0 795.7,228.9 789.3,227.8" fill="#333"/>
<text transform="translate(469.59,698.00) rotate(0) scale(0.9331,1)" font-size="30.52" font-weight="bold" text-anchor="start" fill="#383838" stroke="#383838" stroke-width="0.35" >L</text>
<path id="tp" d="M500.0,700.5 C512.7,699.4 555.7,697.0 576.0,694.0 C596.3,691.0 607.0,688.3 622.0,682.5 C637.0,676.7 654.0,668.2 666.0,659.0 C678.0,649.8 686.8,638.2 694.0,627.0 C701.2,615.8 705.2,604.5 709.0,592.0 C712.8,579.5 714.5,566.5 717.0,552.0 C719.5,537.5 722.8,512.8 724.0,505.0" fill="none"/>
<text font-size="28" fill="#383838" stroke="#383838" stroke-width="0.35"><textPath href="#tp" textLength="283" lengthAdjust="spacingAndGlyphs">(570, 800, 1000, 1200)</textPath></text>
</svg></body></html>
